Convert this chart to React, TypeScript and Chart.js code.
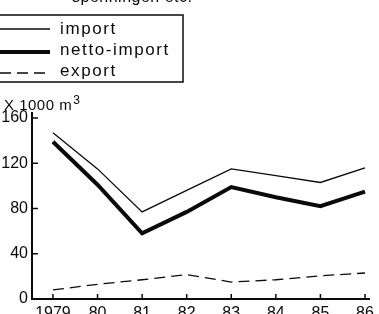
import React, { useEffect, useRef } from 'react';
import { Chart, registerables } from 'chart.js';

Chart.register(...registerables);

const years = [1979, 1980, 1981, 1982, 1983, 1984, 1985, 1986];
const yearLabels = ['1979', '80', '81', '82', '83', '84', '85', '86'];
const importValues = [147, 115, 77, 96, 115, 109, 103, 116];
const nettoImportValues = [139, 101, 58, 77, 99, 90, 82, 95];
const exportValues = [8, 13, 17, 21.5, 15, 17, 20.5, 23];
const seriesLabels = ['import', 'netto-import', 'export'];
const yTickValues = [0, 40, 80, 120, 160];
const headerText = 'spenningen etc.';
const unitText = 'X 1000 m';
const unitSup = '3';

const FONT = '"Liberation Sans", Arial, Helvetica, sans-serif';
const INK = '#0a0a0a';

const decorPlugin = {
  id: 'decor',
  afterDraw(chart: any) {
    const ctx = chart.ctx as CanvasRenderingContext2D;
    const { left, bottom, top } = chart.chartArea;
    const xs = chart.scales.x;
    const ys = chart.scales.y;
    ctx.save();
    ctx.strokeStyle = INK;
    ctx.lineWidth = 1.5;
    ctx.setLineDash([]);
    // inward tick marks
    xs.ticks.forEach((t: any) => {
      const p = xs.getPixelForValue(t.value);
      ctx.beginPath();
      ctx.moveTo(p, bottom);
      ctx.lineTo(p, bottom - 5);
      ctx.stroke();
    });
    ys.ticks.forEach((t: any) => {
      const p = ys.getPixelForValue(t.value);
      ctx.beginPath();
      ctx.moveTo(left, p);
      ctx.lineTo(left + 6, p);
      ctx.stroke();
    });
    // axis extension above top
    ctx.lineWidth = 2;
    ctx.beginPath();
    ctx.moveTo(left, top);
    ctx.lineTo(left, top - 6);
    ctx.stroke();

    // header (cut off)
    ctx.fillStyle = INK;
    ctx.font = `16px ${FONT}`;
    (ctx as any).letterSpacing = '0.5px';
    ctx.textBaseline = 'alphabetic';
    ctx.textAlign = 'left';
    ctx.fillText(headerText, 72, 2);

    // unit label
    ctx.font = `15px ${FONT}`;
    (ctx as any).letterSpacing = '0.5px';
    ctx.fillText(unitText, 4, top - 8);
    const w = ctx.measureText(unitText).width;
    ctx.font = `12px ${FONT}`;
    ctx.fillText(unitSup, 4 + w + 1, top - 14);

    // legend
    const rowsLine = [29, 52, 73];
    const rowsText = [29, 50, 71];
    ctx.lineWidth = 1.5;
    ctx.strokeStyle = INK;
    ctx.strokeRect(-1, 15, 184, 67);
    chart.data.datasets.forEach((ds: any, i: number) => {
      ctx.strokeStyle = ds.borderColor;
      ctx.lineWidth = ds.borderWidth;
      ctx.setLineDash(ds.borderDash || []);
      ctx.beginPath();
      ctx.moveTo(0, rowsLine[i]);
      ctx.lineTo(50, rowsLine[i]);
      ctx.stroke();
      ctx.setLineDash([]);
      ctx.fillStyle = INK;
      ctx.font = `17px ${FONT}`;
      (ctx as any).letterSpacing = '1.6px';
      ctx.textBaseline = 'middle';
      ctx.fillText(ds.label, 60, rowsText[i]);
    });
    ctx.restore();
  },
};

export default function App() {
  const ref = useRef<HTMLCanvasElement | null>(null);
  useEffect(() => {
    if (!ref.current) return;
    const mk = (vals: number[]) => years.map((x, i) => ({ x, y: vals[i] }));
    const chart = new Chart(ref.current, {
      type: 'line',
      data: {
        datasets: [
          { label: seriesLabels[0], data: mk(importValues), borderColor: INK, borderWidth: 1.3, pointRadius: 0, tension: 0, fill: false },
          { label: seriesLabels[1], data: mk(nettoImportValues), borderColor: INK, borderWidth: 4, pointRadius: 0, tension: 0, fill: false },
          { label: seriesLabels[2], data: mk(exportValues), borderColor: INK, borderWidth: 1.3, borderDash: [11, 6], pointRadius: 0, tension: 0, fill: false },
        ],
      },
      options: {
        responsive: false,
        animation: false,
        layout: { padding: { top: 118, right: 7, left: 0, bottom: 0 } },
        plugins: { legend: { display: false }, tooltip: { enabled: false }, title: { display: false } },
        scales: {
          x: {
            type: 'linear',
            min: 1978.53,
            max: 1986.11,
            grid: { display: false, drawTicks: false },
            border: { display: true, color: INK, width: 2 },
            afterBuildTicks: (s: any) => { s.ticks = years.map((v) => ({ value: v })); },
            afterFit: (s: any) => { s.height = 15; },
            ticks: {
              padding: 5,
              color: INK,
              font: { family: FONT, size: 16 },
              maxRotation: 0,
              autoSkip: false,
              callback: (_v: any, i: number) => yearLabels[i],
            },
          },
          y: {
            type: 'linear',
            min: 0,
            max: 160,
            grid: { display: false, drawTicks: false },
            border: { display: true, color: INK, width: 2 },
            afterBuildTicks: (s: any) => { s.ticks = yTickValues.map((v) => ({ value: v })); },
            afterFit: (s: any) => { s.width = 32; },
            ticks: {
              padding: 4,
              color: INK,
              font: { family: FONT, size: 16 },
            },
          },
        },
      },
      plugins: [decorPlugin],
    } as any);
    return () => chart.destroy();
  }, []);
  return (
    <div style={{ position: 'fixed', left: 0, top: 0, width: 379, height: 314, background: '#fff' }}>
      <canvas ref={ref} width={379} height={314} style={{ display: 'block' }} />
    </div>
  );
}
